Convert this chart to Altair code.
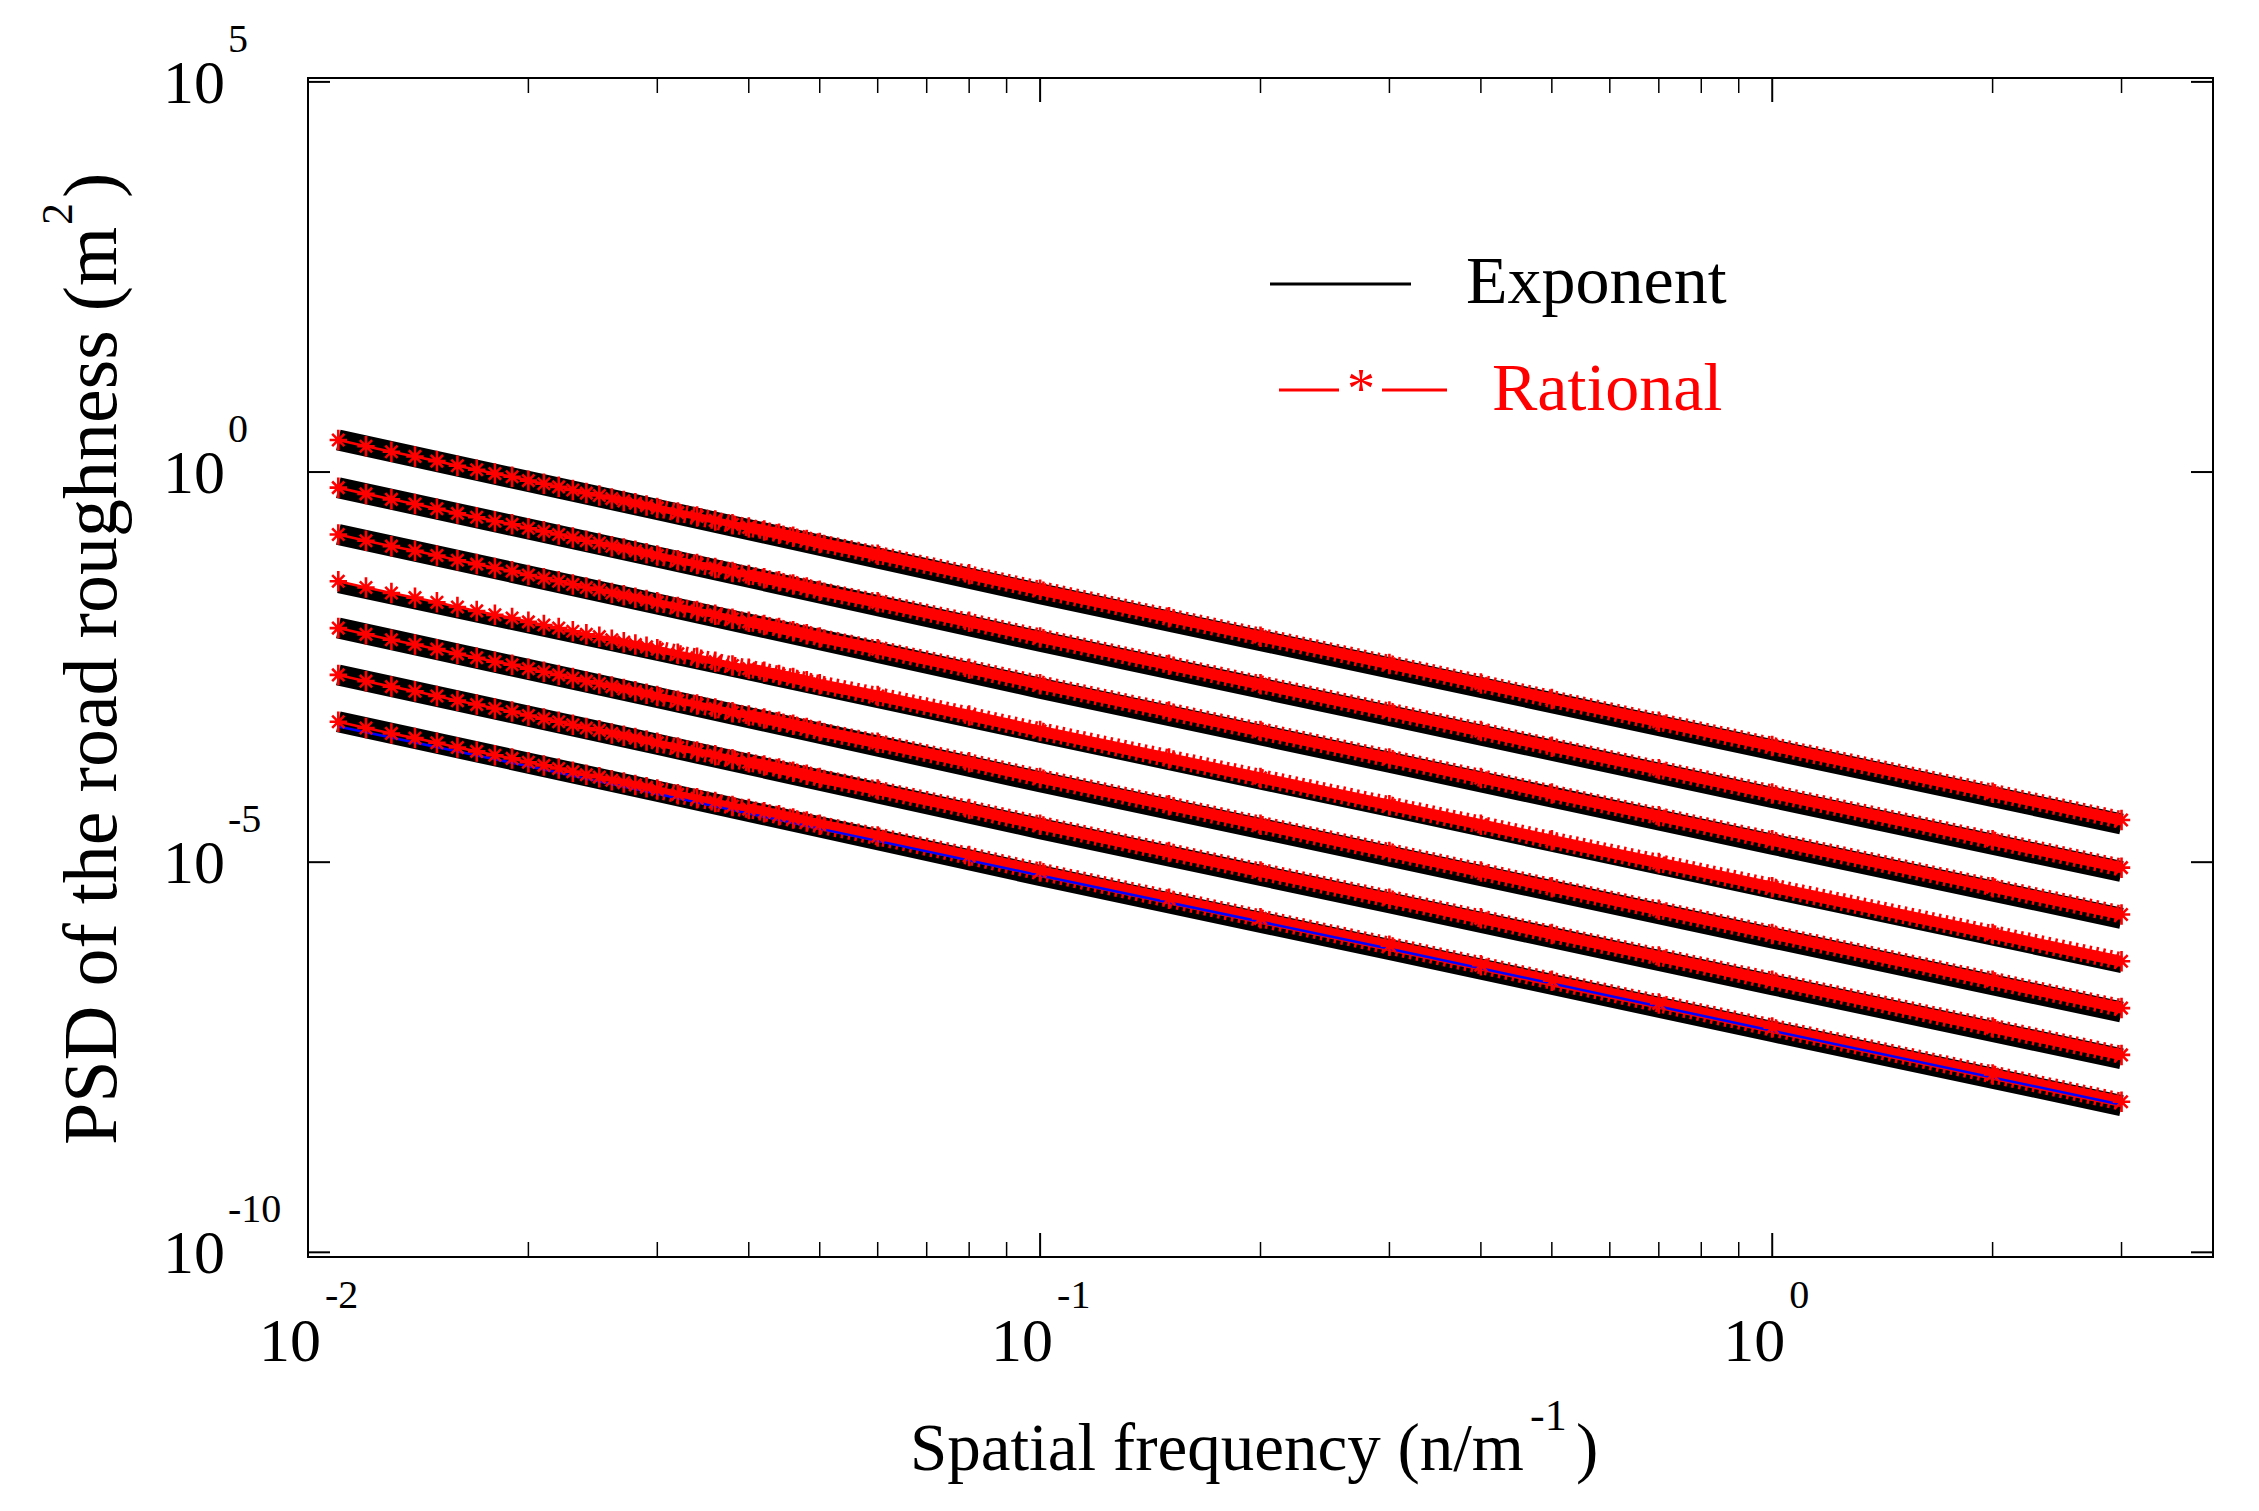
import altair as alt
import pandas as pd

# spatial frequency (1/m) of the plotted samples
freq = [0.011, 0.012, 0.013, 0.014, 0.015, 0.016, 0.017, 0.018, 0.019, 0.020,
        0.021, 0.022, 0.023, 0.024, 0.025, 0.026, 0.027, 0.028, 0.029, 0.030,
        0.032, 0.034, 0.036, 0.038, 0.040, 0.042, 0.044, 0.046, 0.048, 0.050,
        0.06, 0.08, 0.10, 0.15, 0.20, 0.30, 0.40, 0.50, 0.70, 1.0, 2.0, 3.0]

# Rational fit, log10 PSD (top line first)
rational_1 = [0.41, 0.33, 0.26, 0.20, 0.14, 0.08, 0.03, -0.02, -0.06, -0.11,
              -0.15, -0.19, -0.23, -0.27, -0.30, -0.34, -0.37, -0.40, -0.43, -0.46,
              -0.52, -0.57, -0.62, -0.67, -0.71, -0.75, -0.79, -0.83, -0.87, -0.91,
              -1.06, -1.31, -1.51, -1.86, -2.11, -2.46, -2.71, -2.91, -3.20, -3.51, -4.11, -4.46]
rational_2 = [-0.20, -0.28, -0.35, -0.41, -0.47, -0.53, -0.58, -0.63, -0.67, -0.72,
              -0.76, -0.80, -0.84, -0.88, -0.91, -0.95, -0.98, -1.01, -1.04, -1.07,
              -1.13, -1.18, -1.23, -1.28, -1.32, -1.36, -1.40, -1.44, -1.48, -1.52,
              -1.67, -1.92, -2.12, -2.47, -2.72, -3.07, -3.32, -3.52, -3.81, -4.12, -4.72, -5.07]
rational_3 = [-0.80, -0.88, -0.95, -1.01, -1.07, -1.13, -1.18, -1.23, -1.27, -1.32,
              -1.36, -1.40, -1.44, -1.48, -1.51, -1.55, -1.58, -1.61, -1.64, -1.67,
              -1.73, -1.78, -1.83, -1.88, -1.92, -1.96, -2.00, -2.04, -2.08, -2.12,
              -2.27, -2.52, -2.72, -3.07, -3.32, -3.67, -3.92, -4.12, -4.41, -4.72, -5.32, -5.67]
rational_4 = [-1.40, -1.48, -1.55, -1.61, -1.67, -1.73, -1.78, -1.83, -1.87, -1.92,
              -1.96, -2.00, -2.04, -2.08, -2.11, -2.15, -2.18, -2.21, -2.24, -2.27,
              -2.33, -2.38, -2.43, -2.48, -2.52, -2.56, -2.60, -2.64, -2.68, -2.72,
              -2.87, -3.12, -3.32, -3.67, -3.92, -4.27, -4.52, -4.72, -5.01, -5.32, -5.92, -6.27]
rational_5 = [-2.00, -2.08, -2.15, -2.21, -2.27, -2.33, -2.38, -2.43, -2.47, -2.52,
              -2.56, -2.60, -2.64, -2.68, -2.71, -2.75, -2.78, -2.81, -2.84, -2.87,
              -2.93, -2.98, -3.03, -3.08, -3.12, -3.16, -3.20, -3.24, -3.28, -3.32,
              -3.47, -3.72, -3.92, -4.27, -4.52, -4.87, -5.12, -5.32, -5.61, -5.92, -6.52, -6.87]
rational_6 = [-2.60, -2.68, -2.75, -2.81, -2.87, -2.93, -2.98, -3.03, -3.07, -3.12,
              -3.16, -3.20, -3.24, -3.28, -3.31, -3.35, -3.38, -3.41, -3.44, -3.47,
              -3.53, -3.58, -3.63, -3.68, -3.72, -3.76, -3.80, -3.84, -3.88, -3.92,
              -4.07, -4.32, -4.52, -4.87, -5.12, -5.47, -5.72, -5.92, -6.21, -6.52, -7.12, -7.47]
rational_7 = [-3.20, -3.28, -3.35, -3.41, -3.47, -3.53, -3.58, -3.63, -3.67, -3.72,
              -3.76, -3.80, -3.84, -3.88, -3.91, -3.95, -3.98, -4.01, -4.04, -4.07,
              -4.13, -4.18, -4.23, -4.28, -4.32, -4.36, -4.40, -4.44, -4.48, -4.52,
              -4.67, -4.92, -5.12, -5.47, -5.72, -6.07, -6.32, -6.52, -6.81, -7.12, -7.72, -8.07]

# Exponent fit (black), log10 PSD
exp_freq = [0.011, 0.03, 0.1, 0.3, 1.0, 3.0]
exponent_1 = [0.41, -0.48, -1.56, -2.51, -3.56, -4.51]
exponent_2 = [-0.20, -1.09, -2.17, -3.12, -4.17, -5.12]
exponent_3 = [-0.80, -1.69, -2.77, -3.72, -4.77, -5.72]
exponent_4 = [-1.48, -2.35, -3.40, -4.35, -5.40, -6.35]
exponent_5 = [-2.00, -2.89, -3.97, -4.92, -5.97, -6.92]
exponent_6 = [-2.60, -3.49, -4.57, -5.52, -6.57, -7.52]
exponent_7 = [-3.20, -4.09, -5.17, -6.12, -7.17, -8.12]

# blue line on the lowest class
blue_freq = [0.011, 0.02, 0.05, 0.1, 0.3, 1.0, 3.0]
blue_log = [-3.26, -3.77, -4.57, -5.17, -6.11, -7.16, -8.11]

y_tick_exp = [5, 0, -5, -10]
x_tick_exp = [-2, -1, 0]
x_minor = [0.02, 0.03, 0.04, 0.05, 0.06, 0.07, 0.08, 0.09,
           0.2, 0.3, 0.4, 0.5, 0.6, 0.7, 0.8, 0.9, 2, 3, 4]

FONT = 'Liberation Serif'
W, H = 1905, 1179
STAR = 'M0,-1L0,1M-0.85,0L0.85,0M-0.6,-0.6L0.6,0.6M-0.6,0.6L0.6,-0.6'

rational = [rational_1, rational_2, rational_3, rational_4, rational_5, rational_6, rational_7]
exponent = [exponent_1, exponent_2, exponent_3, exponent_4, exponent_5, exponent_6, exponent_7]

rat_df = pd.DataFrame([{'n': f, 'psd': 10.0 ** v, 'cls': i}
                       for i, s in enumerate(rational) for f, v in zip(freq, s)])
exp_df = pd.DataFrame([{'n': f, 'psd': 10.0 ** v, 'cls': i}
                       for i, s in enumerate(exponent) for f, v in zip(exp_freq, s)])
blue_df = pd.DataFrame({'n': blue_freq, 'psd': [10.0 ** v for v in blue_log]})

xs = alt.Scale(type='log', domain=[0.01, 4], nice=False)
ys = alt.Scale(type='log', domain=[10 ** -10.06, 10 ** 5.05], nice=False)


def enc(chart):
    return chart.encode(
        x=alt.X('n:Q', scale=xs, axis=None),
        y=alt.Y('psd:Q', scale=ys, axis=None),
    )


black = enc(alt.Chart(exp_df).mark_line(color='black', strokeWidth=21, strokeCap='butt')).encode(
    detail='cls:N').transform_filter('datum.cls != 3')
black_4 = enc(alt.Chart(exp_df).mark_line(color='black', strokeWidth=11, strokeCap='butt')).encode(
    detail='cls:N').transform_filter('datum.cls == 3')
red_thin = enc(alt.Chart(rat_df).mark_line(color='#ff0000', strokeWidth=2.6)).encode(detail='cls:N')
red_core_a = enc(alt.Chart(rat_df).mark_line(color='#ff0000', strokeWidth=7, strokeCap='butt')).encode(
    detail='cls:N').transform_filter('datum.n >= 0.026')
red_core_b = enc(alt.Chart(rat_df).mark_line(color='#ff0000', strokeWidth=11, strokeCap='butt')).encode(
    detail='cls:N').transform_filter('datum.n >= 0.04')
red_spikes = enc(alt.Chart(rat_df).mark_line(color='#ff0000', strokeWidth=18, strokeCap='butt',
                                             strokeDash=[2.5, 4.5])).encode(
    detail='cls:N').transform_filter('datum.n >= 0.03')
blue = enc(alt.Chart(blue_df).mark_line(color='#0000ff', strokeWidth=2.5))
stars = enc(alt.Chart(rat_df).mark_point(shape=STAR, filled=False, color='#ff0000',
                                         strokeWidth=2.6, size=420, opacity=1))

# tick marks pointing inwards on all four sides
xmaj_df = pd.DataFrame({'t': [10.0 ** e for e in x_tick_exp], 'sup': [str(e) for e in x_tick_exp]})
xmin_df = pd.DataFrame({'t': x_minor})
ytk_df = pd.DataFrame({'t': [10.0 ** e for e in y_tick_exp], 'sup': [str(e) for e in y_tick_exp]})

tx = alt.X('t:Q', scale=xs, axis=None)
ty = alt.Y('t:Q', scale=ys, axis=None)
ticks = [
    alt.Chart(xmaj_df).mark_rule(color='black', strokeWidth=2).encode(x=tx, y=alt.value(H), y2=alt.value(H - 24)),
    alt.Chart(xmaj_df).mark_rule(color='black', strokeWidth=2).encode(x=tx, y=alt.value(0), y2=alt.value(24)),
    alt.Chart(xmin_df).mark_rule(color='black', strokeWidth=1.5).encode(x=tx, y=alt.value(H), y2=alt.value(H - 15)),
    alt.Chart(xmin_df).mark_rule(color='black', strokeWidth=1.5).encode(x=tx, y=alt.value(0), y2=alt.value(15)),
    alt.Chart(ytk_df).mark_rule(color='black', strokeWidth=2).encode(y=ty, x=alt.value(0), x2=alt.value(22)),
    alt.Chart(ytk_df).mark_rule(color='black', strokeWidth=2).encode(y=ty, x=alt.value(W), x2=alt.value(W - 22)),
]

labels = [
    alt.Chart(ytk_df).mark_text(font=FONT, fontSize=62, align='right', baseline='alphabetic', dy=21).encode(
        y=ty, x=alt.value(-83), text=alt.value('10')),
    alt.Chart(ytk_df).mark_text(font=FONT, fontSize=40, align='left', baseline='alphabetic', dy=-30).encode(
        y=ty, x=alt.value(-80), text='sup:N'),
    alt.Chart(xmaj_df).mark_text(font=FONT, fontSize=62, align='right', baseline='alphabetic', dx=13).encode(
        x=tx, y=alt.value(1283), text=alt.value('10')),
    alt.Chart(xmaj_df).mark_text(font=FONT, fontSize=40, align='left', baseline='alphabetic', dx=17).encode(
        x=tx, y=alt.value(1230), text='sup:N'),
]

one = pd.DataFrame({'k': [0]})


def txt(s, x, y, size, color='black', align='left', angle=0):
    return alt.Chart(one).mark_text(font=FONT, fontSize=size, color=color, align=align,
                                    baseline='alphabetic', angle=angle).encode(
        x=alt.value(x), y=alt.value(y), text=alt.value(s))


titles = [
    txt('Spatial frequency (n/m', 602, 1392, 67),
    txt('-1', 1222, 1352, 44),
    txt(')', 1268, 1392, 67),
    txt('PSD of the road roughness (m', -192, 1067, 76, angle=270),
    txt('2', -236, 147, 44, angle=270),
    txt(')', -192, 120, 76, angle=270),
]

legend = [
    alt.Chart(one).mark_rule(color='black', strokeWidth=3).encode(
        x=alt.value(962), x2=alt.value(1103), y=alt.value(206)),
    txt('Exponent', 1158, 225, 68),
    alt.Chart(one).mark_rule(color='#ff0000', strokeWidth=3).encode(
        x=alt.value(971), x2=alt.value(1031), y=alt.value(312)),
    alt.Chart(one).mark_rule(color='#ff0000', strokeWidth=3).encode(
        x=alt.value(1074), x2=alt.value(1139), y=alt.value(312)),
    txt('*', 1053, 330, 56, color='#ff0000', align='center'),
    txt('Rational', 1184, 332, 68, color='#ff0000'),
]

chart = alt.layer(
    black, black_4, red_thin, red_core_a, red_core_b, red_spikes, blue, stars,
    *ticks, *labels, *titles, *legend
).properties(
    width=W, height=H,
    autosize=alt.AutoSizeParams(type='none'),
    padding={'left': 300, 'top': 70, 'right': 38, 'bottom': 246},
).configure_view(stroke='black', strokeWidth=2)

chart.save('out.html', embed_options={'renderer': 'svg', 'actions': False})
